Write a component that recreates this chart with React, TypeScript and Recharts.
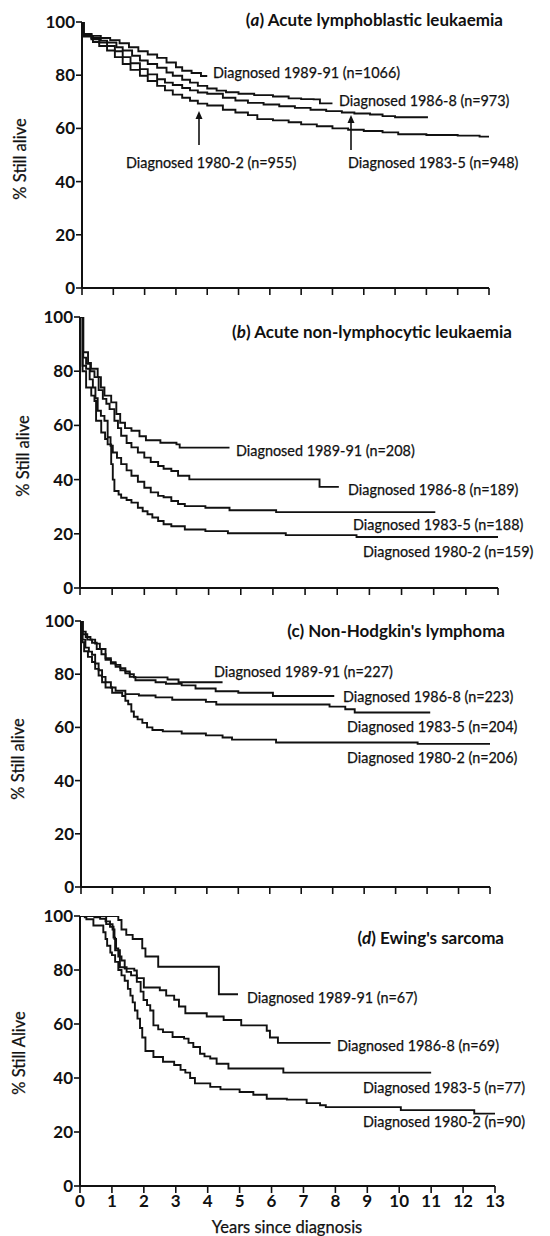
import { LineChart, Line, XAxis, YAxis } from "recharts";

type Pt = [number, number];

const years = [0, 1, 2, 3, 4, 5, 6, 7, 8, 9, 10, 11, 12, 13];
const pctTicks = [0, 20, 40, 60, 80, 100];

// (a) Acute lymphoblastic leukaemia  [years, % still alive]
const all89: Pt[] = [[0,100],[0.05,95.5],[0.3,94.8],[0.6,94],[0.9,93.2],[1.2,92],[1.5,90.5],[1.8,89],[2.1,87.8],[2.4,86.5],[2.7,84.8],[3.0,83],[3.2,81.7],[3.5,80.8],[3.8,79.7],[4.0,79.7]];
const all86: Pt[] = [[0,100],[0.05,95.5],[0.3,94],[0.6,93],[0.8,92.3],[1.1,90.5],[1.3,89.3],[1.6,87.3],[1.85,85.5],[2.1,84.2],[2.4,82.8],[2.7,81],[2.9,79.8],[3.2,78.3],[3.45,77.2],[3.7,76],[4.0,75],[4.3,74.2],[4.6,73.6],[5.0,73],[5.5,72.5],[6.1,72],[6.6,71.3],[7.0,71],[7.4,70.9],[7.6,69.4],[8.0,69.4]];
const all83: Pt[] = [[0,100],[0.05,95],[0.3,93.5],[0.55,92.3],[0.8,91],[1.05,89],[1.3,86.8],[1.55,84.5],[1.85,82.3],[2.1,80.3],[2.4,78.5],[2.65,77.2],[2.9,76.3],[3.2,75.2],[3.45,74.3],[3.7,73.5],[4.0,73],[4.5,71.5],[4.9,70.5],[5.3,69.6],[5.8,69],[6.3,68.3],[6.8,67.7],[7.3,67],[7.8,66.5],[8.3,66],[8.7,65.6],[9.2,65.2],[9.6,64.6],[10.0,64.2],[11.05,64.2]];
const all80: Pt[] = [[0,100],[0.05,94.5],[0.35,92.5],[0.55,91],[0.8,89.3],[1.05,86.8],[1.3,84.2],[1.55,82],[1.85,79.8],[2.1,77.8],[2.4,76],[2.65,74.3],[2.9,72.7],[3.2,71.5],[3.45,70.4],[3.7,69.3],[4.0,68.6],[4.5,67],[4.9,66],[5.3,65],[5.6,63.5],[6.1,63],[6.6,62.3],[7.0,61.5],[7.5,60.8],[8.0,60],[8.5,59.5],[9.0,59],[9.6,58.5],[10.1,57.8],[11.0,57.5],[12.0,57.3],[12.7,56.9],[13.1,56.9]];

// (b) Acute non-lymphocytic leukaemia
const anll89: Pt[] = [[0,100],[0.1,87],[0.25,83],[0.34,80.9],[0.55,77.8],[0.65,74],[0.76,71],[0.97,68.5],[1.13,64.2],[1.25,61],[1.4,59],[1.6,58],[1.85,56],[2.05,54.5],[2.5,53.6],[3.0,53],[3.1,51.8],[4.65,51.8]];
const anll86: Pt[] = [[0,100],[0.1,85],[0.19,82.7],[0.32,80],[0.45,77.8],[0.58,73],[0.71,69.8],[0.82,68],[0.92,66],[1.07,61.7],[1.18,59],[1.28,56.2],[1.45,53.5],[1.6,51.9],[1.8,50],[2.0,48.1],[2.2,46.5],[2.43,45],[2.6,44],[2.84,43.2],[3.05,41.4],[3.4,40.1],[7.45,37.3],[8.05,37.3]];
const anll83: Pt[] = [[0,100],[0.08,82],[0.19,80.9],[0.3,77],[0.4,74],[0.48,70],[0.55,65.4],[0.65,63.5],[0.76,61.7],[0.86,55.6],[0.95,52.5],[1.02,50],[1.15,48],[1.28,45.7],[1.45,43.4],[1.6,41.4],[1.8,39.2],[2.0,37],[2.2,35.3],[2.43,34],[2.6,33.5],[2.84,32.1],[3.05,31],[3.26,30.2],[3.9,29.6],[4.65,28.7],[6.1,28],[11.05,28]];
const anll80: Pt[] = [[0,100],[0.08,80],[0.19,74],[0.35,71],[0.45,69],[0.5,61.7],[0.66,57.4],[0.78,55],[0.86,53],[0.97,45.7],[1.02,40],[1.07,35.8],[1.2,34.5],[1.28,33.3],[1.45,32.5],[1.6,31.5],[1.8,29.6],[1.95,28.3],[2.1,27.2],[2.25,26],[2.43,24.7],[2.6,23.5],[2.84,22.8],[3.26,21.6],[3.9,21],[4.6,20.2],[6.4,19.5],[8.6,18.8],[13.05,18.8]];

// (c) Non-Hodgkin's lymphoma
const nhl89: Pt[] = [[0,100],[0.05,96],[0.15,94],[0.3,93],[0.45,91.5],[0.6,89.5],[0.78,86],[0.95,84.5],[1.1,83.5],[1.25,82.3],[1.41,81],[1.55,80],[1.68,78.8],[2.75,78],[3.1,77],[4.5,77]];
const nhl86: Pt[] = [[0,100],[0.05,95],[0.2,93],[0.35,91.8],[0.5,89.5],[0.65,87.5],[0.78,85.4],[0.95,84],[1.1,82.8],[1.25,81.5],[1.41,80.3],[1.55,79],[1.73,77.7],[2.37,77],[2.7,76.4],[3.2,75.8],[3.64,74.6],[4.28,73.6],[5.0,73],[6.1,71.8],[8.05,71.8]];
const nhl83: Pt[] = [[0,100],[0.05,93],[0.14,90],[0.25,88.5],[0.35,87.3],[0.45,84],[0.56,81.5],[0.67,79],[0.78,77],[0.95,75],[1.1,73.8],[1.41,72.5],[1.84,72],[2.37,71.3],[2.9,70.4],[3.97,69.6],[4.3,68.6],[7.9,67.8],[8.4,66.8],[8.7,65.6],[11.1,65.6]];
const nhl80: Pt[] = [[0,100],[0.04,92],[0.1,88.6],[0.22,86.5],[0.35,84.6],[0.45,82],[0.56,79.5],[0.67,77],[0.78,75],[0.99,73],[1.31,71.8],[1.41,70],[1.5,68.7],[1.6,66],[1.68,64],[1.8,63],[1.95,61.7],[2.1,60],[2.27,59],[2.6,58.5],[3.2,57.7],[3.97,57],[4.5,56.2],[4.8,55.4],[6.2,54.3],[10.7,53.8],[13.1,53.8]];

// (d) Ewing's sarcoma
const ew89: Pt[] = [[0,100],[1.2,98.5],[1.3,95],[1.45,93],[1.65,91.5],[1.95,88],[2.05,85],[2.45,81.2],[4.35,71],[4.95,71]];
const ew86: Pt[] = [[0,100],[0.82,97],[1.02,95],[1.08,91.5],[1.13,88],[1.2,85],[1.3,83.5],[1.4,80.5],[1.7,79.8],[1.78,77],[2.0,73.5],[2.5,72.5],[2.7,70.5],[2.95,69],[3.1,66.5],[3.3,64],[3.97,62.8],[4.5,61.5],[5.05,59.5],[5.85,57.5],[5.95,55],[6.2,53],[7.85,53]];
const ew83: Pt[] = [[0,100],[0.45,99.5],[0.63,99],[0.8,98],[0.94,96],[1.05,92],[1.1,87.3],[1.25,81],[1.46,79.3],[1.6,78],[1.78,75.6],[1.9,72],[1.99,68.9],[2.1,67],[2.2,65],[2.3,59.5],[2.45,58],[2.6,57],[2.9,55.2],[3.26,54.6],[3.4,53],[3.55,51.5],[3.76,49],[3.9,48],[4.08,47.2],[4.28,45.3],[4.65,43.5],[6.37,42],[11.0,42]];
const ew80: Pt[] = [[0,100],[0.15,99.5],[0.2,98.8],[0.42,96.5],[0.73,94],[0.8,91.5],[0.85,89],[0.95,86.5],[1.0,85.5],[1.1,83],[1.2,80],[1.3,78],[1.4,76],[1.5,73],[1.58,70.5],[1.65,68],[1.72,65],[1.8,62],[1.88,58.5],[1.95,55],[2.05,50],[2.3,47.8],[2.6,46],[2.95,44.8],[3.15,43],[3.3,42],[3.45,40],[3.6,38],[4.08,36.7],[4.4,35.8],[5.0,34.8],[5.43,33.8],[5.85,32.3],[6.48,32],[7.1,30.7],[7.52,29.9],[7.7,29.2],[10.05,28.1],[12.35,26.8],[13.0,26.8]];

const font = "Lato, 'Open Sans', sans-serif";
const ink = "#111";

const toRows = (pts: Pt[]) => pts.map(([t, s]) => ({ t, s }));

interface PanelProps {
  top: number;
  height: number;
  margin: { top: number; right: number; bottom: number; left: number };
  yWidth: number;
  xHeight: number;
  series: Pt[][];
  showYears?: boolean;
}

function Panel({ top, height, margin, yWidth, xHeight, series, showYears }: PanelProps) {
  return (
    <div style={{ position: "absolute", left: 0, top }}>
      <LineChart width={550} height={height} margin={margin}>
        <XAxis
          type="number"
          dataKey="t"
          domain={[0, 13]}
          ticks={years}
          interval={0}
          height={xHeight}
          allowDataOverflow
          axisLine={{ stroke: ink, strokeWidth: 2 }}
          tickLine={{ stroke: ink, strokeWidth: 1.6 }}
          tickSize={7}
          tickMargin={2}
          tickFormatter={(v) => (showYears ? String(v) : "")}
          tick={{ fill: ink, fontSize: 17, fontWeight: 700, fontFamily: font }}
        />
        <YAxis
          type="number"
          domain={[0, 100]}
          ticks={pctTicks}
          interval={0}
          width={yWidth}
          allowDataOverflow
          axisLine={{ stroke: ink, strokeWidth: 2 }}
          tickLine={{ stroke: ink, strokeWidth: 1.6 }}
          tickSize={6}
          tickMargin={1}
          tick={{ fill: ink, fontSize: 17, fontWeight: 700, fontFamily: font }}
        />
        {series.map((pts, i) => (
          <Line
            key={i}
            data={toRows(pts)}
            dataKey="s"
            type="stepAfter"
            stroke={ink}
            strokeWidth={1.9}
            dot={false}
            isAnimationActive={false}
          />
        ))}
      </LineChart>
    </div>
  );
}

const titles: { x: number; y: number; letter: string; italic: boolean; text: string }[] = [
  { x: 503, y: 26, letter: "a", italic: true, text: "Acute lymphoblastic leukaemia" },
  { x: 512, y: 338, letter: "b", italic: true, text: "Acute non-lymphocytic leukaemia" },
  { x: 505, y: 637, letter: "c", italic: false, text: "Non-Hodgkin's lymphoma" },
  { x: 504, y: 944, letter: "d", italic: true, text: "Ewing's sarcoma" },
];

const notes: [number, number, string][] = [
  [213, 78, "Diagnosed 1989-91 (n=1066)"],
  [339, 106, "Diagnosed 1986-8 (n=973)"],
  [126, 168, "Diagnosed 1980-2 (n=955)"],
  [348, 168, "Diagnosed 1983-5 (n=948)"],
  [236, 456, "Diagnosed 1989-91 (n=208)"],
  [348, 495, "Diagnosed 1986-8 (n=189)"],
  [353, 530, "Diagnosed 1983-5 (n=188)"],
  [363, 557, "Diagnosed 1980-2 (n=159)"],
  [214, 677, "Diagnosed 1989-91 (n=227)"],
  [343, 702, "Diagnosed 1986-8 (n=223)"],
  [347, 732, "Diagnosed 1983-5 (n=204)"],
  [347, 763, "Diagnosed 1980-2 (n=206)"],
  [247, 1003, "Diagnosed 1989-91 (n=67)"],
  [337, 1051, "Diagnosed 1986-8 (n=69)"],
  [363, 1093, "Diagnosed 1983-5 (n=77)"],
  [363, 1127, "Diagnosed 1980-2 (n=90)"],
];

const yLabels: [number, number, string][] = [
  [20, 159, "% Still alive"],
  [23, 456, "% Still alive"],
  [18, 759, "% Still alive"],
  [19, 1053, "% Still Alive"],
];

// arrows in panel (a): x, tail y, tip y
const arrows: [number, number, number][] = [
  [199, 145, 111],
  [351, 150, 115],
];

export default function App() {
  return (
    <div style={{ position: "absolute", left: 0, top: 0, width: 550, height: 1236, background: "#fff" }}>
      <Panel top={0} height={300} margin={{ top: 22, right: 61, bottom: 2, left: 0 }} yWidth={82} xHeight={10} series={[all89, all86, all83, all80]} />
      <Panel top={300} height={300} margin={{ top: 17, right: 52, bottom: 2, left: 0 }} yWidth={80} xHeight={10} series={[anll89, anll86, anll83, anll80]} />
      <Panel top={600} height={300} margin={{ top: 21, right: 60, bottom: 3, left: 0 }} yWidth={81} xHeight={10} series={[nhl89, nhl86, nhl83, nhl80]} />
      <Panel top={900} height={336} margin={{ top: 16, right: 55, bottom: 2, left: 0 }} yWidth={80} xHeight={48} series={[ew89, ew86, ew83, ew80]} showYears />
      <svg width={550} height={1236} style={{ position: "absolute", left: 0, top: 0, pointerEvents: "none" }}>
        {titles.map((t) => (
          <text key={t.letter} x={t.x} y={t.y} textAnchor="end" fontFamily={font} fontWeight={700} fontSize={17} fill={ink}>
            (<tspan fontStyle={t.italic ? "italic" : "normal"}>{t.letter}</tspan>) {t.text}
          </text>
        ))}
        {notes.map(([x, y, s]) => (
          <text key={s} x={x} y={y} fontFamily={font} fontSize={14.4} fill={ink} stroke={ink} strokeWidth={0.25}>
            {s}
          </text>
        ))}
        {yLabels.map(([x, y, s], i) => (
          <text key={i} x={x} y={y} transform={`rotate(-90 ${x} ${y})`} textAnchor="middle" dominantBaseline="central" fontFamily={font} fontSize={16.5} fill={ink} stroke={ink} strokeWidth={0.25}>
            {s}
          </text>
        ))}
        <text x={287} y={1233} textAnchor="middle" fontFamily={font} fontSize={16.5} fill={ink} stroke={ink} strokeWidth={0.25}>
          Years since diagnosis
        </text>
        {arrows.map(([x, y1, y2]) => (
          <g key={x}>
            <line x1={x} y1={y1} x2={x} y2={y2 + 4} stroke={ink} strokeWidth={1.6} />
            <path d={`M${x - 3.5},${y2 + 8} L${x},${y2} L${x + 3.5},${y2 + 8} Z`} fill={ink} />
          </g>
        ))}
      </svg>
    </div>
  );
}
